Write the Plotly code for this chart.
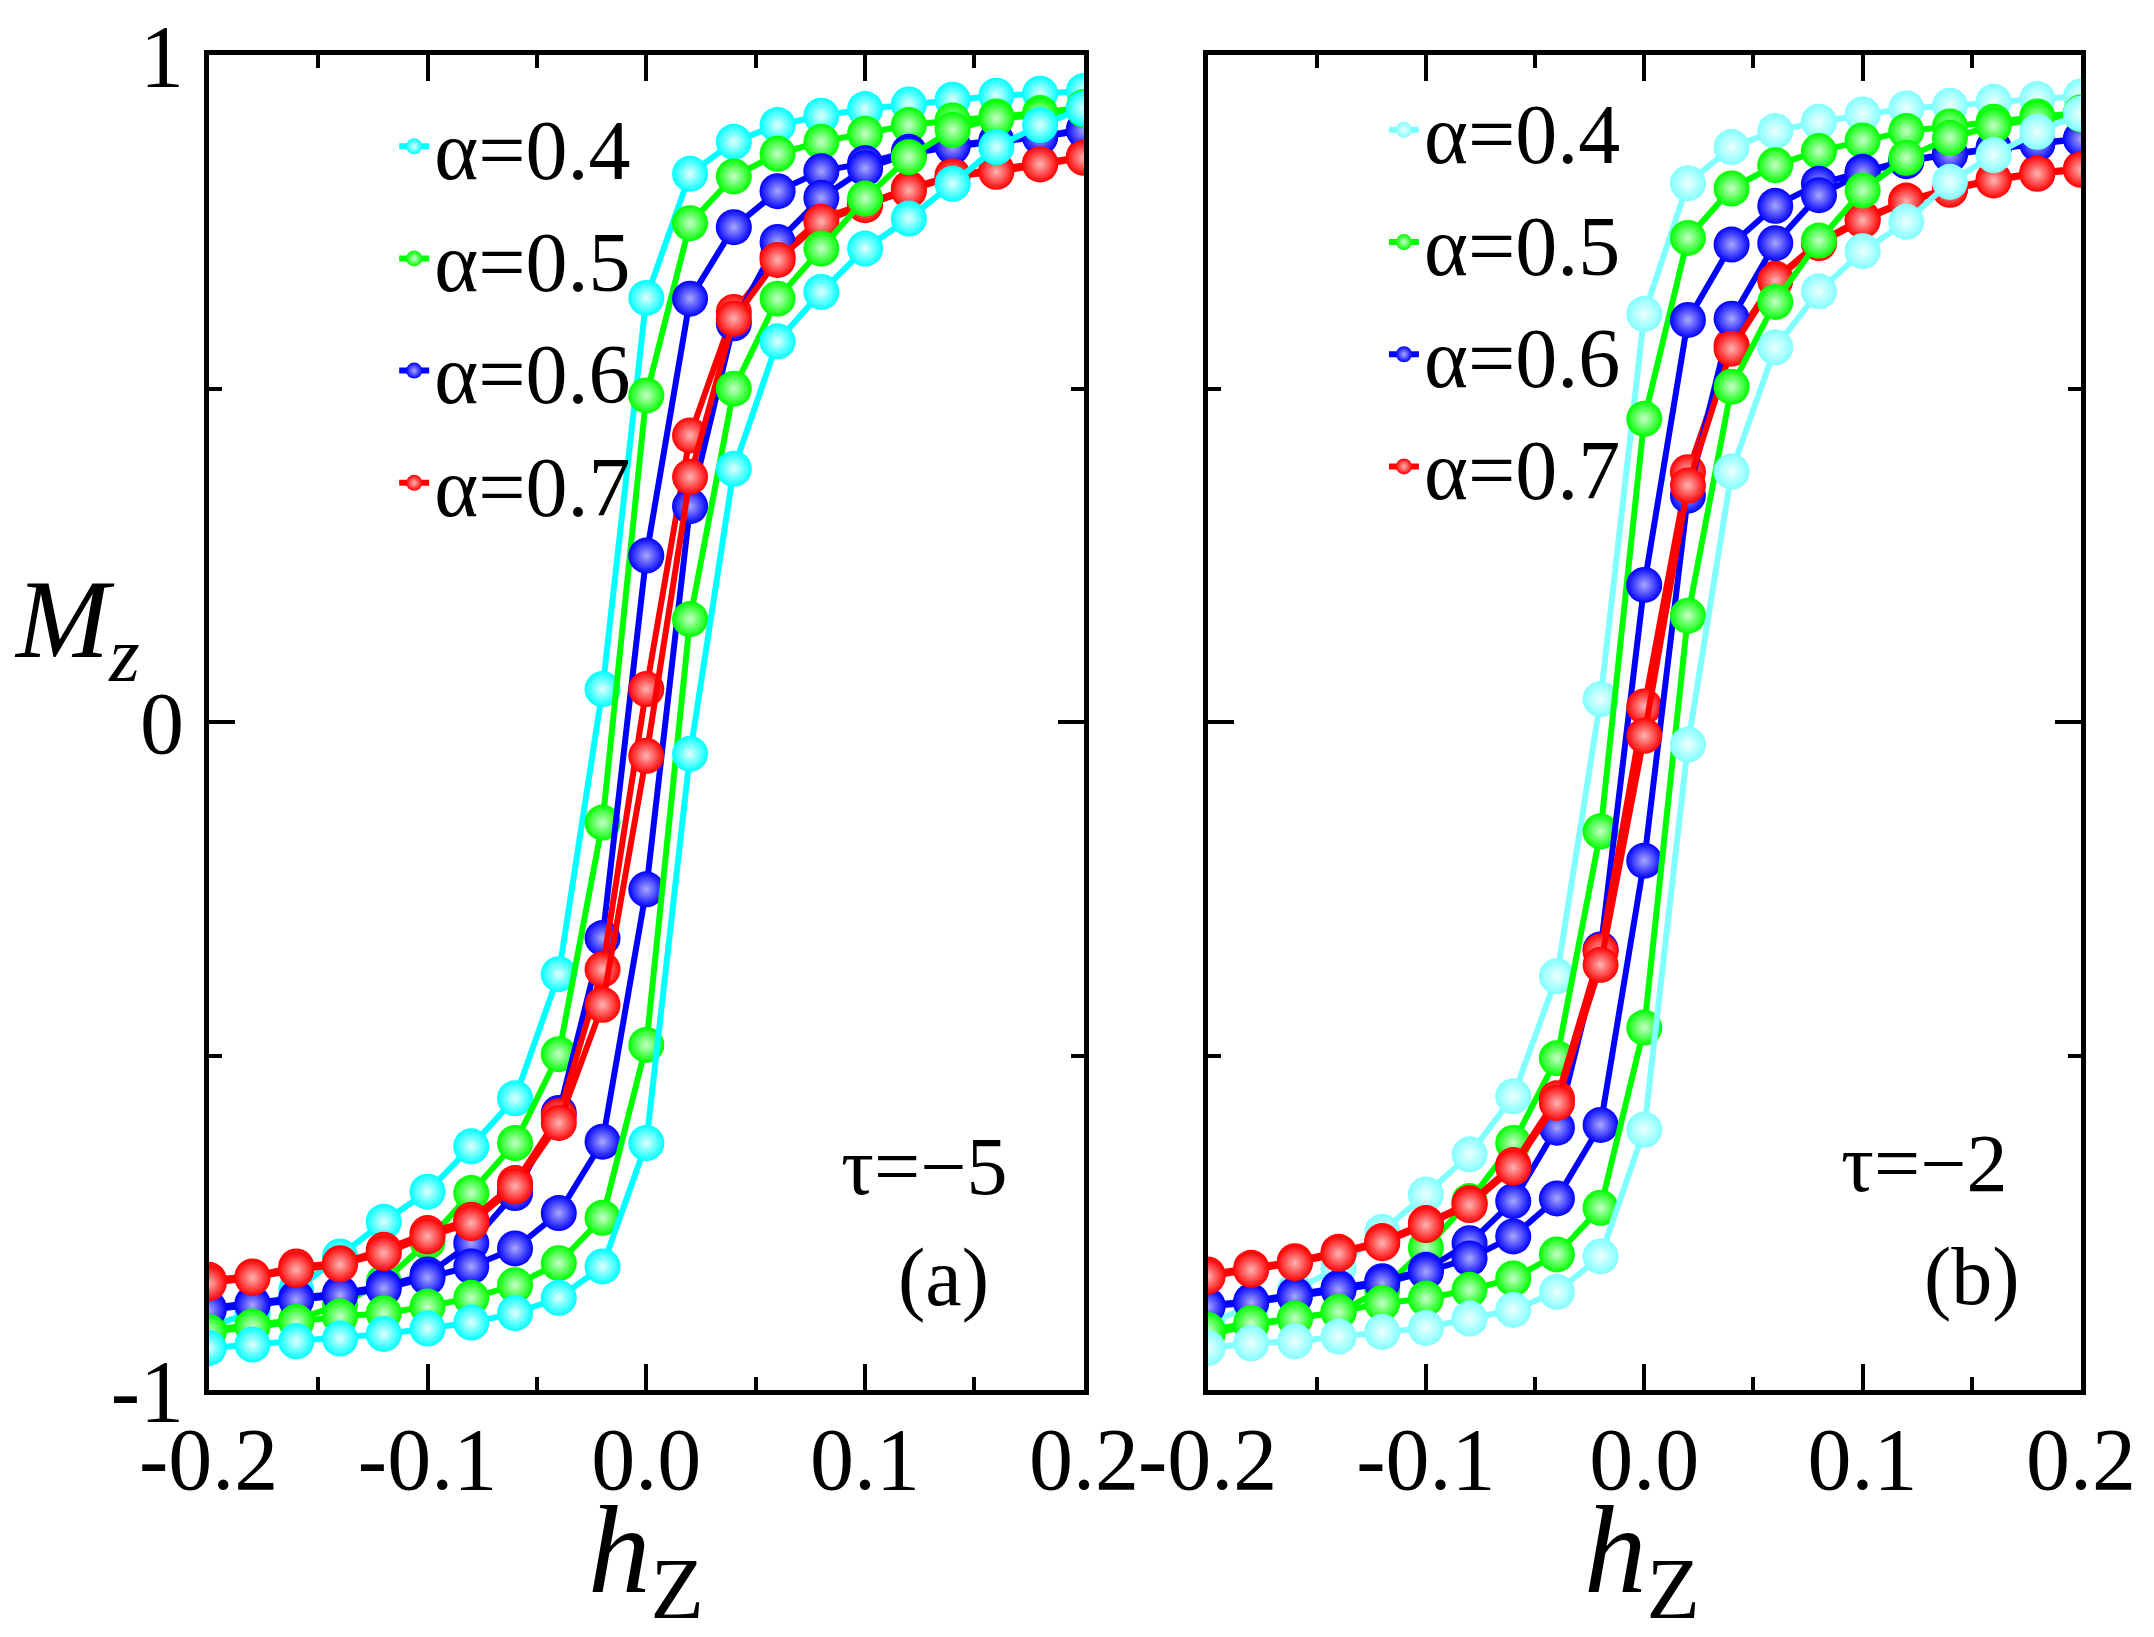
import plotly.graph_objects as go

# field values of the sweep
hz = [-0.20, -0.18, -0.16, -0.14, -0.12, -0.10, -0.08, -0.06, -0.04, -0.02, 0.00,
      0.02, 0.04, 0.06, 0.08, 0.10, 0.12, 0.14, 0.16, 0.18, 0.20]

alpha_labels = ["α=0.4", "α=0.5", "α=0.6", "α=0.7"]

# panel (a), tau=-5: "down" = left branch, "up" = right branch
a_down_04 = [-0.905, -0.884, -0.850, -0.800, -0.748, -0.703, -0.635, -0.563, -0.377, 0.050, 0.636,
             0.822, 0.870, 0.895, 0.909, 0.919, 0.926, 0.933, 0.939, 0.942, 0.946]
a_up_04 = [-0.937, -0.932, -0.927, -0.923, -0.916, -0.908, -0.899, -0.885, -0.862, -0.815, -0.630,
           -0.047, 0.380, 0.571, 0.645, 0.710, 0.755, 0.807, 0.862, 0.895, 0.920]
a_down_05 = [-0.910, -0.902, -0.895, -0.872, -0.838, -0.778, -0.705, -0.630, -0.497, -0.150, 0.490,
             0.748, 0.818, 0.852, 0.870, 0.882, 0.895, 0.902, 0.908, 0.913, 0.922]
a_up_05 = [-0.913, -0.905, -0.898, -0.890, -0.885, -0.875, -0.862, -0.843, -0.810, -0.742, -0.483,
           0.155, 0.500, 0.635, 0.710, 0.785, 0.847, 0.888, 0.905, 0.910, 0.918]
a_down_06 = [-0.877, -0.870, -0.862, -0.855, -0.845, -0.827, -0.780, -0.705, -0.585, -0.323, 0.250,
             0.635, 0.742, 0.796, 0.826, 0.838, 0.855, 0.865, 0.872, 0.878, 0.889]
a_up_06 = [-0.880, -0.873, -0.865, -0.858, -0.848, -0.832, -0.815, -0.788, -0.735, -0.628, -0.250,
           0.324, 0.598, 0.720, 0.786, 0.830, 0.852, 0.863, 0.870, 0.877, 0.887]
a_down_07 = [-0.835, -0.830, -0.815, -0.810, -0.790, -0.765, -0.745, -0.690, -0.590, -0.370, 0.050,
             0.430, 0.615, 0.698, 0.755, 0.778, 0.800, 0.820, 0.828, 0.838, 0.848]
a_up_07 = [-0.840, -0.832, -0.820, -0.812, -0.795, -0.770, -0.750, -0.695, -0.600, -0.423, -0.050,
           0.368, 0.605, 0.693, 0.750, 0.775, 0.797, 0.818, 0.825, 0.836, 0.846]

# panel (b), tau=-2
b_down_04 = [-0.900, -0.875, -0.850, -0.817, -0.763, -0.707, -0.647, -0.560, -0.380, 0.035, 0.612,
             0.808, 0.862, 0.886, 0.900, 0.911, 0.920, 0.924, 0.930, 0.934, 0.938]
b_up_04 = [-0.937, -0.930, -0.927, -0.920, -0.913, -0.907, -0.893, -0.880, -0.853, -0.800, -0.610,
           -0.033, 0.376, 0.562, 0.646, 0.706, 0.750, 0.810, 0.850, 0.885, 0.912]
b_down_05 = [-0.917, -0.903, -0.893, -0.883, -0.850, -0.787, -0.717, -0.630, -0.503, -0.163, 0.455,
             0.726, 0.800, 0.835, 0.856, 0.872, 0.886, 0.893, 0.900, 0.908, 0.914]
b_up_05 = [-0.910, -0.900, -0.893, -0.883, -0.870, -0.863, -0.850, -0.833, -0.797, -0.727, -0.457,
           0.160, 0.503, 0.630, 0.722, 0.797, 0.846, 0.876, 0.894, 0.904, 0.911]
b_down_06 = [-0.873, -0.867, -0.857, -0.847, -0.837, -0.820, -0.780, -0.717, -0.607, -0.340, 0.206,
             0.603, 0.716, 0.774, 0.807, 0.825, 0.842, 0.852, 0.861, 0.868, 0.875]
b_up_06 = [-0.875, -0.869, -0.860, -0.850, -0.840, -0.823, -0.803, -0.770, -0.713, -0.603, -0.207,
           0.340, 0.605, 0.718, 0.790, 0.823, 0.841, 0.851, 0.860, 0.867, 0.874]
b_down_07 = [-0.827, -0.817, -0.807, -0.793, -0.777, -0.750, -0.720, -0.663, -0.563, -0.343, 0.024,
             0.375, 0.565, 0.665, 0.720, 0.755, 0.782, 0.800, 0.814, 0.824, 0.830]
b_up_07 = [-0.830, -0.820, -0.810, -0.796, -0.780, -0.753, -0.723, -0.667, -0.570, -0.363, -0.020,
           0.355, 0.560, 0.662, 0.718, 0.752, 0.780, 0.798, 0.812, 0.822, 0.828]

a_down = [a_down_04, a_down_05, a_down_06, a_down_07]
a_up = [a_up_04, a_up_05, a_up_06, a_up_07]
b_down = [b_down_04, b_down_05, b_down_06, b_down_07]
b_up = [b_up_04, b_up_05, b_up_06, b_up_07]

colors_a = ["#00FFFF", "#00FF00", "#0000FF", "#FF0000"]
colors_b = ["#80FFFF", "#00FF00", "#0000FF", "#FF0000"]
# lighter centre of the ball markers
shine_a = ["#E0FFFF", "#C8FFC8", "#A8A8FF", "#FFB4B4"]
shine_b = ["#EEFFFF", "#C8FFC8", "#A8A8FF", "#FFB4B4"]

x_tickvals = [-0.2, -0.1, 0.0, 0.1, 0.2]
x_ticktext = ["-0.2", "-0.1", "0.0", "0.1", "0.2"]
x_minor = [-0.15, -0.05, 0.05, 0.15]
y_tickvals = [-1, 0, 1]
y_ticktext = ["-1", "0", "1"]
y_minor = [-0.5, 0.5]

FONT = "Liberation Serif"

fig = go.Figure()


def add_panel(down, up, colors, shine, xa, ya, legend):
    # draw order: down branches first, then up branches
    for i in range(4):
        fig.add_trace(go.Scatter(
            x=hz, y=down[i], mode="lines+markers", name=alpha_labels[i],
            xaxis=xa, yaxis=ya, legend=legend, legendgroup=legend + str(i),
            line=dict(color=colors[i], width=6),
            marker=dict(size=36, color=colors[i], line=dict(width=0),
                        gradient=dict(type="radial", color=shine[i])),
            showlegend=True))
    for i in [2, 3, 1, 0]:
        fig.add_trace(go.Scatter(
            x=hz, y=up[i], mode="lines+markers", name=alpha_labels[i],
            xaxis=xa, yaxis=ya, legend=legend, legendgroup=legend + str(i),
            line=dict(color=colors[i], width=6),
            marker=dict(size=36, color=colors[i], line=dict(width=0),
                        gradient=dict(type="radial", color=shine[i])),
            showlegend=False))


add_panel(a_down, a_up, colors_a, shine_a, "x", "y", "legend")
add_panel(b_down, b_up, colors_b, shine_b, "x2", "y2", "legend2")

axis_style = dict(
    showline=True, linewidth=5, linecolor="black", mirror="ticks",
    ticks="inside", ticklen=26, tickwidth=4, tickcolor="black",
    showgrid=False, zeroline=False, automargin=False,
    tickfont=dict(family=FONT, size=88, color="black"),
)
minor_style = dict(tickmode="array", ticks="inside", ticklen=13, tickwidth=4,
                   tickcolor="black", showgrid=False)

xdom_a = [0.0969, 0.5032]
xdom_b = [0.5606, 0.9661]
ydom = [0.1509, 0.9664]

fig.update_layout(
    width=2154, height=1637,
    margin=dict(l=0, r=0, t=0, b=0),
    paper_bgcolor="white", plot_bgcolor="white",
    font=dict(family=FONT, color="black"),
    xaxis=dict(axis_style, domain=xdom_a, range=[-0.2, 0.2], anchor="y",
               tickmode="array", tickvals=x_tickvals, ticktext=x_ticktext,
               ticklabelstandoff=-12, minor=dict(minor_style, tickvals=x_minor)),
    yaxis=dict(axis_style, domain=ydom, range=[-1, 1], anchor="x",
               tickmode="array", tickvals=y_tickvals, ticktext=y_ticktext,
               ticklabelstandoff=2, minor=dict(minor_style, tickvals=y_minor)),
    xaxis2=dict(axis_style, domain=xdom_b, range=[-0.2, 0.2], anchor="y2",
                tickmode="array", tickvals=x_tickvals, ticktext=x_ticktext,
                ticklabelstandoff=-12, minor=dict(minor_style, tickvals=x_minor)),
    yaxis2=dict(axis_style, domain=ydom, range=[-1, 1], anchor="x2",
                tickmode="array", tickvals=y_tickvals, ticktext=y_ticktext,
                showticklabels=False, minor=dict(minor_style, tickvals=y_minor)),
    legend=dict(x=0.183, y=0.948, xanchor="left", yanchor="top",
                bgcolor="rgba(0,0,0,0)", tracegroupgap=0, traceorder="grouped",
                font=dict(family=FONT, size=84, color="black")),
    legend2=dict(x=0.6425, y=0.958, xanchor="left", yanchor="top",
                 bgcolor="rgba(0,0,0,0)", tracegroupgap=0, traceorder="grouped",
                 font=dict(family=FONT, size=84, color="black")),
)

annotations = [
    dict(text="τ=−5", x=0.127, y=-0.665, xref="x", yref="y"),
    dict(text="(a)", x=0.136, y=-0.832, xref="x", yref="y"),
    dict(text="τ=−2", x=0.128, y=-0.66, xref="x2", yref="y2"),
    dict(text="(b)", x=0.150, y=-0.83, xref="x2", yref="y2"),
]
for ann in annotations:
    ann.update(showarrow=False, xanchor="center", yanchor="middle",
               font=dict(family=FONT, size=82, color="black"))

titles = [
    dict(text="<i>M</i><sub><i>z</i></sub>", x=0.0357, y=0.6164,
         font=dict(family=FONT, size=112, color="black")),
    dict(text="<i>h</i><sub>Z</sub>", x=0.2998, y=0.0476,
         font=dict(family=FONT, size=125, color="black")),
    dict(text="<i>h</i><sub>Z</sub>", x=0.7623, y=0.0476,
         font=dict(family=FONT, size=125, color="black")),
]
for t in titles:
    t.update(xref="paper", yref="paper", showarrow=False,
             xanchor="center", yanchor="middle")

fig.update_layout(annotations=annotations + titles)

fig.write_html("out.html", config={"displayModeBar": False},
               post_script="document.body.style.margin='0';")
